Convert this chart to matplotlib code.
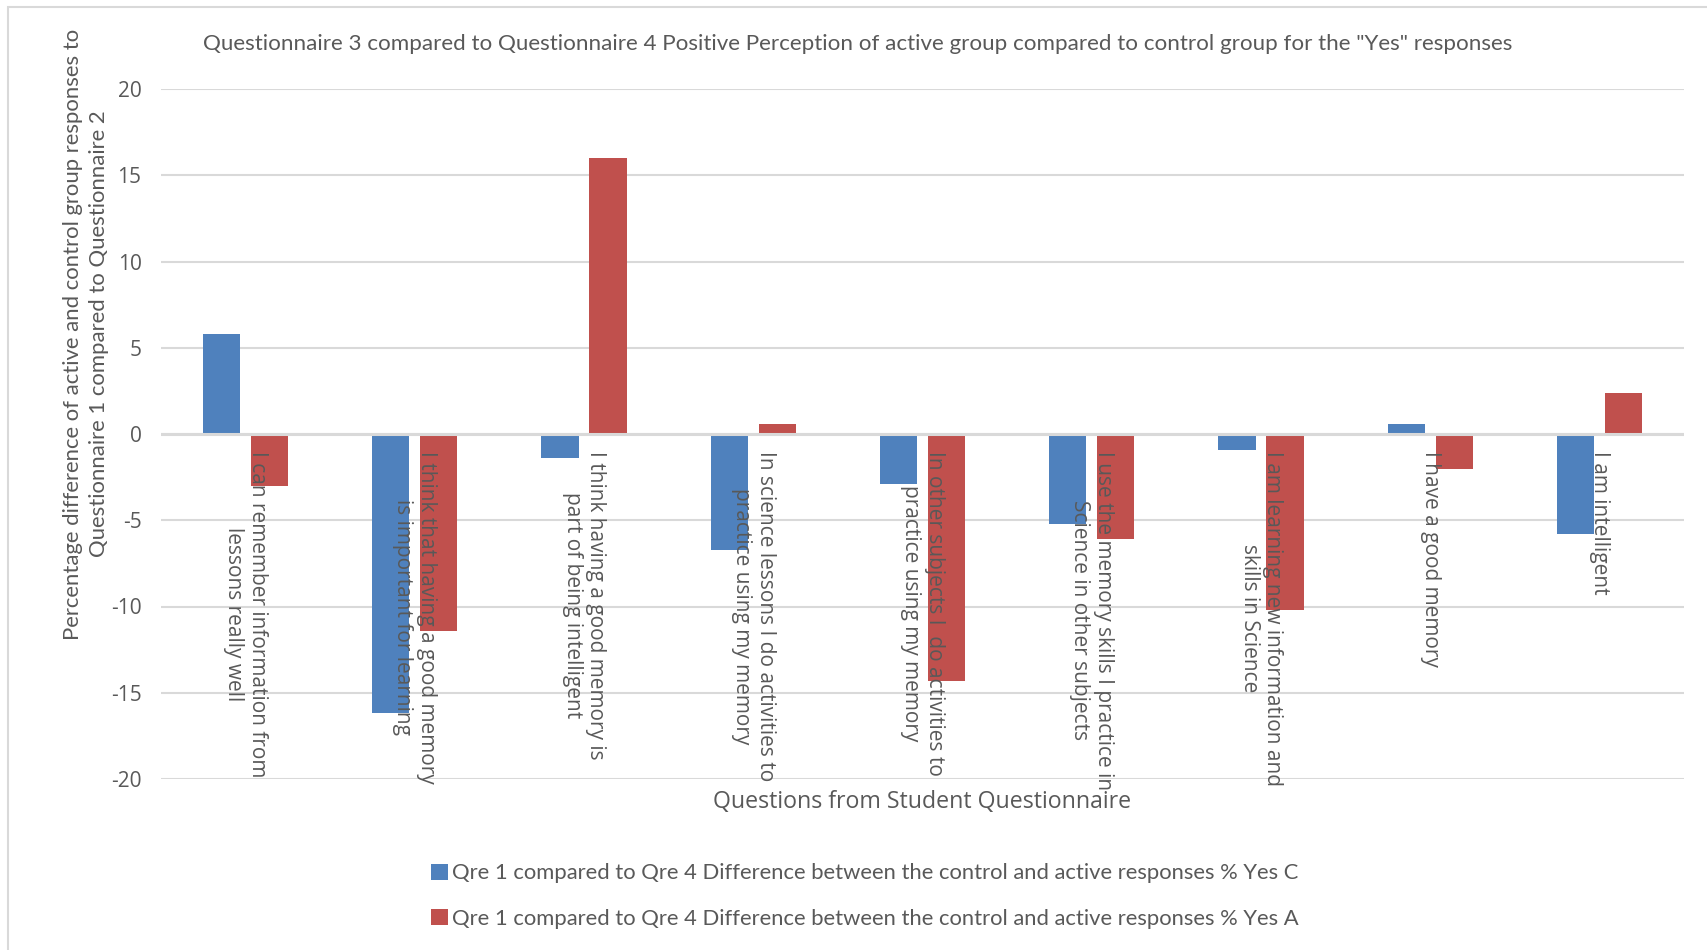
import matplotlib
matplotlib.use("Agg")
import matplotlib.pyplot as plt
from matplotlib.patches import Rectangle
import numpy as np

# question wording, two lines each as laid out under the axis
questions = [
    "I can remember information from\nlessons really well",
    "I think that having a good memory\nis important for learning",
    "I think having a good memory is\npart of being intelligent",
    "In science lessons I do activities to\npractice using my memory",
    "In other subjects I  do activities to\npractice using my memory",
    "I use the memory skills I practice in\nScience in other subjects",
    "I am learning new information and\nskills in Science",
    "I have a good memory",
    "I am intelligent",
]

# % difference, control group (C) and active group (A)
yes_c = [5.8, -16.2, -1.4, -6.7, -2.9, -5.2, -0.9, 0.6, -5.8]
yes_a = [-3.0, -11.4, 16.0, 0.6, -14.3, -6.1, -10.2, -2.0, 2.4]

series_names = [
    "Qre 1 compared to Qre 4 Difference between the control and active responses % Yes C",
    "Qre 1 compared to Qre 4 Difference between the control and active responses % Yes A",
]
title = ('Questionnaire 3 compared to Questionnaire 4 Positive Perception of active group '
         'compared to control group for the "Yes" responses')
ylabel = ("Percentage difference of active and control group responses to\n"
          "Questionnaire 1 compared to Questionnaire 2")
xlabel = "Questions from Student Questionnaire"

BLUE = "#4F81BD"
RED = "#C0504D"
GRID = "#D9D9D9"
TXT = "#595959"
NARROW = ["Lato", "DejaVu Sans"]
WIDE = ["Open Sans", "DejaVu Sans"]

plt.rcParams["axes.unicode_minus"] = False

W, H = 1708, 950
fig = plt.figure(figsize=(W / 100, H / 100), dpi=100)
ax = fig.add_axes([161 / W, 1 - 779 / H, (1684 - 161) / W, (779 - 89) / H])

x = np.arange(len(questions))
bw = 0.22
off = 0.142
ax.bar(x - off, yes_c, width=bw, color=BLUE, label=series_names[0], zorder=3)
ax.bar(x + off, yes_a, width=bw, color=RED, label=series_names[1], zorder=3)

ax.set_xlim(-0.5, len(questions) - 0.5)
ax.set_ylim(-20, 20)
ax.set_yticks(np.arange(-20, 21, 5))
ax.yaxis.grid(True, color=GRID, linewidth=1.5, zorder=0)
ax.axhline(0, color=GRID, linewidth=2.2, zorder=4)
ax.set_xticks([])
for s in ax.spines.values():
    s.set_visible(False)
ax.tick_params(axis="y", length=0, pad=14, labelcolor=TXT)
for lab in ax.get_yticklabels():
    lab.set_fontfamily(WIDE)
    lab.set_fontsize(15)

# category labels hang from the zero line
for i, q in enumerate(questions):
    ax.annotate(q, xy=(i, 0), xytext=(0, -12), textcoords="offset points",
                rotation=270, ha="center", va="top", multialignment="center",
                fontsize=15, family=WIDE, color=TXT, zorder=5,
                linespacing=1.17)

fig.text(858 / W, 1 - 44 / H, title, ha="center", va="center",
         fontsize=16.1, family=NARROW, color=TXT)
fig.text(86 / W, 1 - 334 / H, ylabel, ha="center", va="center", rotation=90,
         multialignment="center", fontsize=15.9, family=NARROW, color=TXT,
         linespacing=1.38)
fig.text(922 / W, 1 - 802 / H, xlabel, ha="center", va="center",
         fontsize=16.7, family=WIDE, color=TXT)

leg = fig.legend(loc="center", bbox_to_anchor=(865 / W, 1 - 896 / H), ncol=1,
                 frameon=False, handlelength=0.75, handleheight=0.75,
                 handletextpad=0.2, labelspacing=1.15,
                 prop={"family": NARROW, "size": 15.8})
for t in leg.get_texts():
    t.set_color(TXT)

# chart area outline
fig.patches.append(Rectangle((8 / W, -0.01), 1.0, 1 - 7 / H + 0.01,
                             transform=fig.transFigure, fill=False,
                             edgecolor=GRID, linewidth=1.5))

fig.savefig("out.png", dpi=100)
